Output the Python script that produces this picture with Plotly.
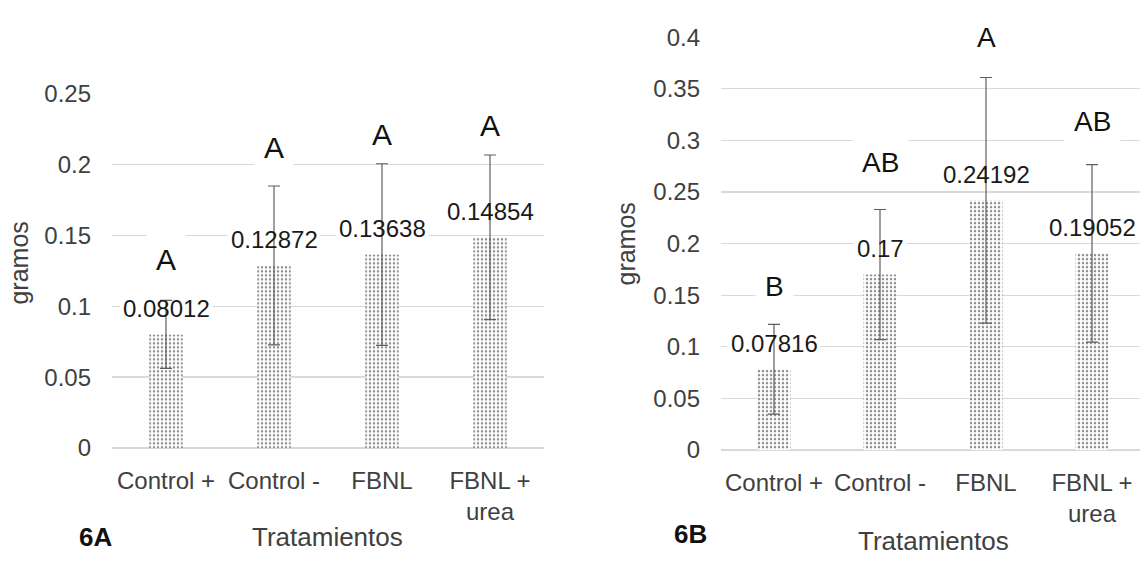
import plotly.graph_objects as go

# ---------------- data ----------------
categories = ["Control +", "Control -", "FBNL", "FBNL + urea"]
tick_labels = ["Control +", "Control -", "FBNL", "FBNL +<br>urea"]

values_A = [0.08012, 0.12872, 0.13638, 0.14854]
errors_A = [0.024, 0.056, 0.064, 0.058]
letters_A = ["A", "A", "A", "A"]
letter_y_A = [0.133, 0.212, 0.221, 0.227]
y_ticks_A = [0, 0.05, 0.1, 0.15, 0.2, 0.25]

values_B = [0.07816, 0.17, 0.24192, 0.19052]
errors_B = [0.0435, 0.063, 0.119, 0.086]
letters_B = ["B", "AB", "A", "AB"]
letter_y_B = [0.158, 0.279, 0.400, 0.318]
y_ticks_B = [0, 0.05, 0.1, 0.15, 0.2, 0.25, 0.3, 0.35, 0.4]

panel_labels = ["6A", "6B"]
x_title = "Tratamientos"
y_title = "gramos"

# ---------------- style ----------------
W, H = 1140, 569
FONT = "Arial, Liberation Sans, sans-serif"
TICK_COL = "#404040"
GRID_COL = "#d9d9d9"
LABEL_SHIFT = 26  # px above bar top for value labels


def px_x(p):
    return p / W


def px_y(p):
    return 1 - p / H


def text_width(s, size):
    w = 0
    for ch in s:
        w += 0.278 if ch == "." else 0.556
    return w * size


fig = go.Figure()
annotations = []
shapes = []

panels = [
    ("x", "y", values_A, errors_A, letters_A, letter_y_A, 30),
    ("x2", "y2", values_B, errors_B, letters_B, letter_y_B, 28),
]

for xa, ya, vals, errs, letters, ly, lsize in panels:
    idx = list(range(len(categories)))
    fig.add_trace(go.Bar(
        x=idx, y=vals, xaxis=xa, yaxis=ya, width=0.31,
        marker=dict(color="white", line=dict(width=0),
                    pattern=dict(shape=".", size=4, solidity=0.3,
                                 fgcolor="#1e1e1e", bgcolor="white")),
        error_y=dict(type="data", array=errs, visible=True,
                     color="#5e5e5e", thickness=1.2, width=6),
        hoverinfo="skip",
    ))
    for i, v in enumerate(vals):
        txt = f"{v:g}"
        tw = text_width(txt, 24)
        shapes.append(dict(
            type="rect", xref=xa, yref=ya, layer="between",
            xsizemode="pixel", ysizemode="pixel",
            xanchor=i, yanchor=v,
            x0=-tw / 2 - 3, x1=tw / 2 + 3,
            y0=LABEL_SHIFT - 13, y1=LABEL_SHIFT + 13,
            fillcolor="white", line=dict(width=0),
        ))
        annotations.append(dict(
            x=i, y=v, xref=xa, yref=ya, text=txt, showarrow=False,
            yshift=LABEL_SHIFT, xanchor="center", yanchor="middle",
            font=dict(family=FONT, size=24, color="#1a1a1a"),
        ))
    for i, (lt, yy) in enumerate(zip(letters, ly)):
        annotations.append(dict(
            x=i, y=yy, xref=xa, yref=ya, text=lt, showarrow=False,
            xanchor="center", yanchor="middle",
            bgcolor="white", borderpad=9,
            font=dict(family=FONT, size=lsize, color="#111111"),
        ))

# axis titles and panel labels
annotations += [
    dict(x=px_x(19), y=px_y(262), xref="paper", yref="paper", text=y_title,
         textangle=-90, showarrow=False, xanchor="center", yanchor="middle",
         font=dict(family=FONT, size=25, color=TICK_COL)),
    dict(x=px_x(626), y=px_y(242), xref="paper", yref="paper", text=y_title,
         textangle=-90, showarrow=False, xanchor="center", yanchor="middle",
         font=dict(family=FONT, size=25, color=TICK_COL)),
    dict(x=px_x(327), y=px_y(549), xref="paper", yref="paper", text=x_title,
         showarrow=False, xanchor="center", yanchor="middle",
         font=dict(family=FONT, size=26, color=TICK_COL)),
    dict(x=px_x(933), y=px_y(553), xref="paper", yref="paper", text=x_title,
         showarrow=False, xanchor="center", yanchor="middle",
         font=dict(family=FONT, size=26, color=TICK_COL)),
    dict(x=px_x(95), y=px_y(549), xref="paper", yref="paper",
         text="<b>" + panel_labels[0] + "</b>", showarrow=False,
         xanchor="center", yanchor="middle",
         font=dict(family=FONT, size=26, color="#111111")),
    dict(x=px_x(690), y=px_y(546), xref="paper", yref="paper",
         text="<b>" + panel_labels[1] + "</b>", showarrow=False,
         xanchor="center", yanchor="middle",
         font=dict(family=FONT, size=26, color="#111111")),
]

xcommon = dict(
    tickmode="array", tickvals=list(range(len(categories))), ticktext=tick_labels,
    tickangle=0, showgrid=False, zeroline=False, showline=False, ticks="",
    tickfont=dict(family=FONT, size=24, color=TICK_COL), ticklabelstandoff=16,
)
ycommon = dict(
    showgrid=True, gridcolor=GRID_COL, gridwidth=1.3, zeroline=True,
    zerolinecolor=GRID_COL, zerolinewidth=1.3, showline=False, ticks="",
    tickfont=dict(family=FONT, size=24, color=TICK_COL), ticklabelstandoff=20,
)

fig.update_layout(
    width=W, height=H, margin=dict(l=0, r=0, t=0, b=0),
    paper_bgcolor="white", plot_bgcolor="white", showlegend=False,
    xaxis=dict(domain=[px_x(112), px_x(544)], range=[-0.5, 3.5], anchor="y", **xcommon),
    yaxis=dict(domain=[px_y(455.7), px_y(83.3)], range=[0, 0.25],
               tickvals=y_ticks_A, anchor="x", **ycommon),
    xaxis2=dict(domain=[px_x(721), 1.0], range=[-0.5, -0.5 + 419 / 106],
                anchor="y2", **xcommon),
    yaxis2=dict(domain=[px_y(457.7), px_y(24.3)], range=[0, 0.4],
                tickvals=y_ticks_B, anchor="x2", **ycommon),
    annotations=annotations, shapes=shapes,
)

fig.write_html(
    "out.html",
    config={"displayModeBar": False, "staticPlot": True},
    post_script="document.body.style.margin='0';document.body.style.padding='0';",
)
